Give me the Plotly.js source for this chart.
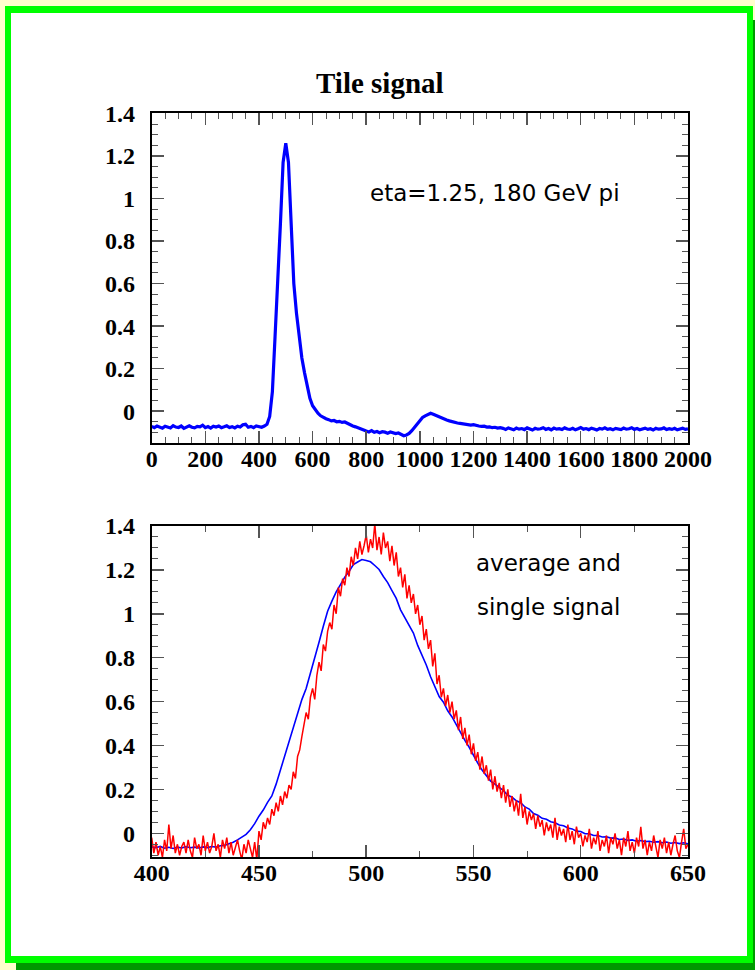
<!DOCTYPE html>
<html>
<head>
<meta charset="utf-8">
<script src="https://cdn.plot.ly/plotly-3.0.1.min.js"></script>
<style>
html,body{margin:0;padding:0;background:#ffffcc;}
#plot{width:755px;height:970px;}
</style>
</head>
<body>
<div id="plot"></div>
<script>
// ---------- DATA ----------
// Top panel: tile signal, sampled every 10 units from 0 to 2000
const topStart = 0, topStep = 10;
const topSignal = [
  // 0 .. 400
  -0.072,-0.078,-0.070,-0.076,-0.080,-0.071,-0.074,-0.079,-0.068,-0.075,
  -0.077,-0.070,-0.081,-0.073,-0.069,-0.076,-0.079,-0.072,-0.074,-0.066,
  -0.078,-0.073,-0.080,-0.071,-0.075,-0.070,-0.078,-0.074,-0.069,-0.077,
  -0.073,-0.079,-0.071,-0.075,-0.064,-0.062,-0.076,-0.072,-0.078,-0.070,
  -0.074,
  // 410 .. 800
  -0.076,-0.070,-0.062,-0.025,0.09,0.35,0.66,0.88,1.17,1.26,
  1.17,0.92,0.60,0.46,0.35,0.25,0.18,0.115,0.06,0.025,
  0.005,-0.010,-0.022,-0.030,-0.036,-0.040,-0.046,-0.044,-0.050,-0.048,
  -0.053,-0.051,-0.058,-0.062,-0.070,-0.074,-0.080,-0.084,-0.090,-0.094,
  // 810 .. 1200
  -0.098,-0.092,-0.100,-0.096,-0.102,-0.097,-0.099,-0.104,-0.098,-0.101,
  -0.106,-0.103,-0.110,-0.116,-0.112,-0.105,-0.092,-0.075,-0.058,-0.042,
  -0.030,-0.022,-0.016,-0.010,-0.015,-0.021,-0.028,-0.033,-0.038,-0.042,
  -0.046,-0.050,-0.053,-0.056,-0.058,-0.060,-0.063,-0.062,-0.066,-0.064,
  // 1210 .. 1300
  -0.068,-0.070,-0.072,-0.071,-0.075,-0.074,-0.078,-0.076,-0.080,-0.078,
  // 1310 .. 2000
  -0.081,-0.086,-0.079,-0.084,-0.088,-0.080,-0.085,-0.082,-0.087,-0.079,
  -0.084,-0.089,-0.081,-0.085,-0.083,-0.078,-0.086,-0.082,-0.088,-0.080,
  -0.085,-0.083,-0.087,-0.079,-0.084,-0.086,-0.081,-0.088,-0.083,-0.077,
  -0.085,-0.082,-0.087,-0.080,-0.084,-0.089,-0.082,-0.085,-0.079,-0.086,
  -0.083,-0.088,-0.081,-0.084,-0.087,-0.080,-0.085,-0.083,-0.078,-0.086,
  -0.082,-0.088,-0.084,-0.080,-0.086,-0.083,-0.089,-0.081,-0.085,-0.084,
  -0.079,-0.087,-0.083,-0.086,-0.081,-0.088,-0.084,-0.080,-0.086,-0.083
];

// Bottom panel: average signal, sampled every 2 units from 400 to 650
const avgStart = 400, avgStep = 2;
const averageSignal = [
  -0.062,-0.066,-0.060,-0.068,-0.064,-0.069,-0.063,-0.067,-0.061,-0.066,
  -0.063,-0.067,-0.062,-0.065,-0.060,-0.063,-0.057,-0.055,-0.048,-0.041,
  -0.030,-0.019,-0.005,0.016,0.044,0.078,0.106,0.141,0.170,0.224,
  0.288,0.362,0.423,0.487,0.546,0.609,0.660,0.730,0.788,0.870,
  0.943,1.012,1.058,1.100,1.133,1.167,1.193,1.224,1.236,1.247,
  1.243,1.237,1.220,1.202,1.170,1.142,1.106,1.070,1.018,0.982,
  0.945,0.912,0.856,0.813,0.767,0.713,0.667,0.623,0.597,0.558,
  0.530,0.493,0.462,0.423,0.392,0.353,0.320,0.288,0.264,0.238,
  0.224,0.208,0.194,0.173,0.164,0.148,0.139,0.120,0.110,0.090,
  0.082,0.068,0.064,0.053,0.048,0.038,0.034,0.024,0.020,0.010,
  0.008,-0.002,-0.002,-0.010,-0.010,-0.017,-0.016,-0.022,-0.021,-0.028,
  -0.026,-0.032,-0.030,-0.036,-0.033,-0.038,-0.036,-0.041,-0.038,-0.043,
  -0.040,-0.045,-0.042,-0.047,-0.043,-0.048
];

// Bottom panel: single signal, sampled every 1 unit from 400 to 650
const singleStart = 400, singleStep = 1;
const singleSignal = [
  // 400 .. 450
  -0.02,-0.09,-0.04,-0.10,-0.06,-0.11,-0.03,-0.08,0.04,-0.07,
  -0.01,-0.09,-0.05,-0.10,-0.06,-0.04,-0.09,-0.03,-0.08,-0.11,
  -0.02,-0.07,-0.05,-0.10,-0.01,-0.08,-0.04,-0.09,-0.06,0.00,
  -0.08,-0.05,-0.11,-0.03,-0.07,-0.02,-0.09,-0.04,-0.10,-0.06,
  -0.03,-0.08,-0.12,-0.05,-0.09,-0.03,-0.07,-0.11,-0.04,-0.12,
  0.01,
  // 451 .. 500
  -0.03,0.05,0.02,0.07,0.04,0.11,0.08,0.14,0.10,0.17,
  0.13,0.19,0.16,0.22,0.20,0.28,0.25,0.35,0.38,0.44,
  0.49,0.55,0.52,0.62,0.66,0.61,0.72,0.78,0.74,0.86,
  0.83,0.92,0.96,0.93,1.04,1.00,1.12,1.08,1.16,1.13,
  1.21,1.17,1.26,1.22,1.30,1.25,1.33,1.27,1.31,1.36,
  // 501 .. 550
  1.28,1.34,1.30,1.41,1.29,1.35,1.27,1.37,1.30,1.33,
  1.24,1.31,1.22,1.28,1.17,1.21,1.12,1.18,1.07,1.13,
  1.05,1.09,1.00,1.04,0.95,0.99,0.88,0.93,0.84,0.88,
  0.76,0.82,0.68,0.72,0.62,0.66,0.58,0.63,0.55,0.60,
  0.52,0.56,0.47,0.53,0.43,0.48,0.40,0.45,0.36,0.41,
  // 551 .. 600
  0.33,0.37,0.29,0.35,0.27,0.31,0.24,0.29,0.20,0.26,
  0.19,0.23,0.16,0.22,0.14,0.20,0.12,0.17,0.10,0.15,
  0.08,0.18,0.07,0.12,0.04,0.10,0.06,0.09,0.02,0.08,
  0.03,0.06,-0.01,0.05,0.01,0.04,-0.02,0.07,-0.03,0.03,
  -0.01,0.02,-0.04,0.04,-0.03,0.01,-0.05,0.03,-0.02,0.00,
  // 601 .. 650
  -0.06,-0.01,-0.04,0.02,-0.07,-0.02,-0.05,0.01,-0.08,-0.03,
  -0.06,-0.01,-0.09,-0.02,-0.05,0.00,-0.07,-0.03,-0.10,-0.02,
  -0.06,0.01,-0.08,-0.04,-0.09,-0.02,-0.06,0.03,-0.07,-0.03,
  -0.10,-0.04,-0.08,-0.01,-0.06,-0.11,-0.03,-0.07,-0.02,-0.09,
  -0.04,-0.10,-0.05,-0.01,-0.08,-0.11,-0.04,0.02,-0.07,-0.05
];

// Tick labels / text
const titleText = 'Tile signal';
const topLabel = 'eta=1.25, 180 GeV pi';
const bottomLabel1 = 'average and';
const bottomLabel2 = 'single signal';

// ---------- BUILD ----------
function grid(start, step, n){ const a=[]; for(let i=0;i<n;i++) a.push(start+i*step); return a; }
const W = 755, H = 970;
const px = x => x / W;
const py = y => 1 - y / H;

const traces = [
  {x: grid(topStart, topStep, topSignal.length), y: topSignal, xaxis:'x', yaxis:'y',
   type:'scatter', mode:'lines', line:{color:'#0000ff', width:3.2}, hoverinfo:'skip'},
  {x: grid(avgStart, avgStep, averageSignal.length), y: averageSignal, xaxis:'x2', yaxis:'y2',
   type:'scatter', mode:'lines', line:{color:'#0000ff', width:1.6}, hoverinfo:'skip'},
  {x: grid(singleStart, singleStep, singleSignal.length), y: singleSignal, xaxis:'x2', yaxis:'y2',
   type:'scatter', mode:'lines', line:{color:'#ff0000', width:1.5}, hoverinfo:'skip'}
];

const tickFont = {family:'Liberation Serif, Times New Roman, serif', size:24, color:'#000', weight:'bold'};
function axis(extra){
  return Object.assign({
    showgrid:false, zeroline:false, showline:true, linecolor:'#000', linewidth:2,
    mirror:'ticks', ticks:'inside', ticklen:12, tickwidth:1.5, tickcolor:'#555',
    tickfont:tickFont, fixedrange:true
  }, extra);
}

const layout = {
  width:W, height:H,
  margin:{l:0, r:0, t:0, b:0, pad:0},
  paper_bgcolor:'#ffffcc', plot_bgcolor:'#ffffff',
  showlegend:false,
  xaxis: axis({domain:[px(151.7), px(688)], anchor:'y', range:[0,2000], tick0:0, dtick:200,
               ticklabelstandoff:-7,
               minor:{dtick:50, ticklen:6, tickwidth:1, tickcolor:'#555', ticks:'inside'}}),
  yaxis: axis({domain:[py(443), py(112.7)], anchor:'x', range:[-0.15,1.404], tick0:0, dtick:0.2,
               ticklabelstandoff:10,
               minor:{dtick:0.05, ticklen:6, tickwidth:1, tickcolor:'#555', ticks:'inside'}}),
  xaxis2: axis({domain:[px(151.7), px(688)], anchor:'y2', range:[400,650], tick0:400, dtick:50,
               ticklabelstandoff:-7,
               minor:{dtick:25, ticklen:6, tickwidth:1, tickcolor:'#555', ticks:'inside'}}),
  yaxis2: axis({domain:[py(857), py(526)], anchor:'x2', range:[-0.108,1.4], tick0:0, dtick:0.2,
               ticklabelstandoff:10,
               minor:{dtick:0.05, ticklen:6, tickwidth:1, tickcolor:'#555', ticks:'inside'}}),
  shapes:[
    {type:'rect', xref:'paper', yref:'paper', layer:'below', x0:px(16), x1:px(755), y0:py(970), y1:py(20),
     fillcolor:'#009900', line:{width:0}},
    {type:'rect', xref:'paper', yref:'paper', layer:'below', x0:px(5), x1:px(753), y0:py(963), y1:py(6),
     fillcolor:'#00ff00', line:{width:0}},
    {type:'rect', xref:'paper', yref:'paper', layer:'below', x0:px(11), x1:px(747), y0:py(956), y1:py(13),
     fillcolor:'#ffffff', line:{width:0}}
  ],
  annotations:[
    {text:titleText, xref:'paper', yref:'paper', x:px(380), y:py(83), xanchor:'center', yanchor:'middle',
     showarrow:false, font:{family:'Liberation Serif, Times New Roman, serif', size:29, color:'#000', weight:'bold'}},
    {text:topLabel, xref:'paper', yref:'paper', x:px(495), y:py(193), xanchor:'center', yanchor:'middle',
     showarrow:false, font:{family:'DejaVu Sans, sans-serif', size:23, color:'#000'}},
    {text:bottomLabel1, xref:'paper', yref:'paper', x:px(548), y:py(563), xanchor:'center', yanchor:'middle',
     showarrow:false, font:{family:'DejaVu Sans, sans-serif', size:23, color:'#000'}},
    {text:bottomLabel2, xref:'paper', yref:'paper', x:px(548), y:py(607), xanchor:'center', yanchor:'middle',
     showarrow:false, font:{family:'DejaVu Sans, sans-serif', size:23, color:'#000'}}
  ]
};

Plotly.newPlot('plot', traces, layout, {displayModeBar:false, staticPlot:true});
</script>
</body>
</html>
